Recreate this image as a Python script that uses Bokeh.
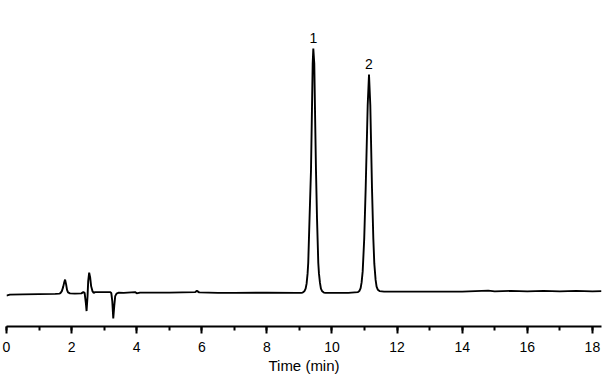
from bokeh.plotting import figure
from bokeh.models import Range1d, SingleIntervalTicker, ColumnDataSource
from bokeh.core.properties import value
from bokeh.embed import file_html
from bokeh.resources import INLINE

# Chromatogram trace: time (min) and detector signal (mV)
time_min = [
    0.00, 0.10, 0.50, 1.00, 1.50, 1.62, 1.66, 1.70, 1.74, 1.77, 1.80, 1.83, 1.86, 1.89, 1.95,
    2.10, 2.30, 2.36, 2.40, 2.44, 2.46, 2.49, 2.51, 2.54, 2.57, 2.60, 2.64, 2.68, 2.72,
    3.00, 3.18, 3.22, 3.25, 3.28, 3.31, 3.34, 3.38, 3.45, 3.60, 3.95, 4.00, 4.10,
    5.00, 5.80, 5.85, 5.92, 6.50, 7.00, 8.00, 8.90, 9.05, 9.10, 9.15, 9.19, 9.22, 9.25,
    9.27, 9.31, 9.355, 9.38, 9.407, 9.426, 9.456, 9.48, 9.508, 9.54, 9.579, 9.60, 9.631,
    9.66, 9.70, 9.75, 9.80, 10.00, 10.50, 10.80, 10.84, 10.88, 10.91, 10.943, 10.99,
    11.035, 11.097, 11.137, 11.177, 11.229, 11.27, 11.30, 11.34, 11.37, 11.41, 11.46,
    11.60, 12.00, 13.00, 14.00, 14.80, 15.00, 15.50, 16.00, 16.50, 17.00, 17.50, 18.00, 18.28,
]
signal_mv = [
    -0.8, -0.4, -0.3, -0.2, -0.1, 0.0, 0.2, 1.0, 2.6, 4.3, 5.6, 3.8, 1.5, 0.5, 0.1,
    0.0, 0.1, 0.6, 0.3, -4.0, -7.0, -1.0, 5.0, 8.4, 6.5, 3.0, 1.0, 0.3, 0.6,
    0.6, 0.6, 0.2, -3.0, -10.0, -5.0, -1.0, 0.0, 0.4, 0.3, 0.6, 0.1, 0.4,
    0.4, 0.6, 1.1, 0.5, 0.3, 0.3, 0.4, 0.3, 0.3, 0.4, 0.9, 2.0, 4.0, 8.0,
    12.3, 30.0, 49.6, 70.0, 92.3, 98.3, 92.3, 72.0, 49.6, 30.0, 12.3, 8.0, 4.3,
    2.0, 0.9, 0.4, 0.3, 0.3, 0.3, 0.6, 1.0, 2.2, 4.5, 8.9, 22.0,
    42.3, 75.6, 87.9, 75.6, 42.3, 22.0, 12.0, 5.5, 2.8, 1.5, 1.0,
    0.8, 0.8, 0.8, 0.8, 1.2, 0.9, 1.1, 0.9, 1.1, 0.9, 1.1, 0.9, 1.0,
]
peak_labels = ["1", "2"]
peak_times = [9.426, 11.137]

FONT = "Liberation Sans"

p = figure(width=610, height=376, output_backend="svg", toolbar_location=None,
           x_range=Range1d(0, 18.28), y_range=Range1d(-13.2, 117.6),
           y_axis_location=None, min_border_left=6, min_border_right=9,
           min_border_top=0, min_border_bottom=49)
p.outline_line_color = None
p.xgrid.visible = False
p.ygrid.visible = False
p.background_fill_color = "white"

p.line(time_min, signal_mv, line_color="black", line_width=1.9)

# peak labels located at the apex of each peak
apex = []
for t in peak_times:
    i = min(range(len(time_min)), key=lambda k: abs(time_min[k] - t))
    apex.append(signal_mv[i])
src = ColumnDataSource(dict(x=peak_times, y=apex, t=peak_labels))
p.text(x="x", y="y", text="t", source=src, text_align="center", text_baseline="bottom",
       y_offset=-6, text_font=value(FONT), text_font_size="14px", text_color="black")

ax = p.xaxis[0]
ax.ticker = SingleIntervalTicker(interval=2, num_minor_ticks=2)
ax.axis_label = "Time (min)"
ax.axis_label_text_font = FONT
ax.axis_label_text_font_style = "normal"
ax.axis_label_text_font_size = "15px"
ax.axis_label_standoff = 2
ax.major_label_text_font = FONT
ax.major_label_text_font_size = "14px"
ax.major_label_standoff = 8
ax.axis_line_width = 2
ax.major_tick_line_width = 2
ax.minor_tick_line_width = 2
ax.major_tick_in = 0
ax.major_tick_out = 7
ax.minor_tick_in = 0
ax.minor_tick_out = 4
ax.axis_line_color = "black"
ax.major_tick_line_color = "black"
ax.minor_tick_line_color = "black"
ax.major_label_text_color = "black"
ax.axis_label_text_color = "black"

open("out.html", "w").write(file_html(p, INLINE))
